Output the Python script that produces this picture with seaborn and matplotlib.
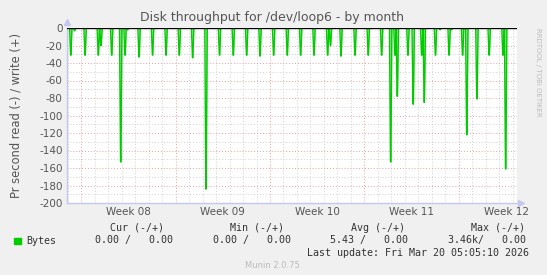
import numpy as np
import pandas as pd
import matplotlib
matplotlib.use("Agg")
import matplotlib.pyplot as plt
import seaborn as sns

# ---- data (days since start of Week 08, value in bytes/s; negative = read) ----
spike_day = [-0.76, -0.48, 0.30, 1.28, 1.48, 2.27, 2.94, 3.26, 3.45, 4.30, 5.30, 6.30,
             7.28, 8.27, 9.26, 10.26, 11.28, 12.27, 13.26, 14.27, 15.28, 16.27,
             17.26, 18.27, 18.48, 19.26, 20.30, 21.28, 22.27, 22.94, 23.26, 23.43,
             24.22, 24.61, 25.24, 25.43, 26.26, 26.60, 27.27, 27.45, 28.27, 28.58,
             29.33, 30.24, 31.26, 31.46]
spike_value = [-31, -3, -31, -31, -20, -31, -153, -31, -2, -33, -31, -31,
               -31, -34, -184, -31, -31, -31, -32, -31, -31, -31,
               -31, -31, -20, -32, -31, -31, -31, -153, -31, -78,
               -31, -87, -31, -85, -31, -2, -31, -2, -31, -122,
               -81, -31, -31, -161]

week_labels = ["Week 08", "Week 09", "Week 10", "Week 11", "Week 12"]
week_starts = [0, 7, 14, 21, 28]
yticks = list(range(0, -201, -20))

legend_headers = ["Cur (-/+)", "Min (-/+)", "Avg (-/+)", "Max (-/+)"]
legend_values = ["0.00 /   0.00", "0.00 /   0.00", "5.43 /   0.00", "3.46k/   0.00"]
series_name = "Bytes"
last_update = "Last update: Fri Mar 20 05:05:10 2026"

# ---- build series from the spikes ----
X0, X1 = -1.04, 32.3
xs, ys = [X0], [0.0]
hw, bw = 0.09, 0.015
for d, v in zip(spike_day, spike_value):
    xs += [d - hw, d - bw, d + bw, d + hw]
    ys += [0, v, v, 0]
xs.append(X1); ys.append(0.0)
df = pd.DataFrame({"day": xs, "value": ys})

sns.set_style("white")
plt.rcParams["font.family"] = ["DejaVu Sans"]

fig = plt.figure(figsize=(5.47, 2.75), dpi=100)
fig.patch.set_facecolor("#F0F0F0")
ax = fig.add_axes([67 / 547, 72 / 275, 450 / 547, 175 / 275])
ax.set_facecolor("white")

ax.set_xlim(X0, X1)
ax.set_ylim(-200, 0)

# grid
for d in np.arange(-1, 33):
    if d in week_starts:
        continue
    ax.axvline(d, color="#D0D0D0", lw=0.7, ls=(0, (1, 2)), zorder=0)
for d in week_starts:
    ax.axvline(d, color="#E8A0A0", lw=0.7, ls=(0, (1, 2)), zorder=0)
for yv in range(-190, 0, 20):
    ax.axhline(yv, color="#D0D0D0", lw=0.7, ls=(0, (1, 2)), zorder=0)
for yv in range(-180, 0, 20):
    ax.axhline(yv, color="#E8A0A0", lw=0.7, ls=(0, (1, 2)), zorder=0)

ax.fill_between(df["day"], df["value"], 0, color="#00CC00", alpha=0.45, lw=0, zorder=2)
sns.lineplot(data=df, x="day", y="value", ax=ax, color="#00CC00", lw=1.0,
             estimator=None, sort=False, zorder=3)
ax.axhline(0, color="black", lw=1.0, zorder=4)

# axes style
for s in ["top", "right"]:
    ax.spines[s].set_visible(False)
for s in ["left", "bottom"]:
    ax.spines[s].set_color("#C4C8EC")
    ax.spines[s].set_linewidth(1.0)
ax.plot([0], [1.035], marker="^", color="#C4C8EC", ms=5, transform=ax.transAxes, clip_on=False)
ax.plot([1.008], [0], marker=">", color="#C4C8EC", ms=5, transform=ax.transAxes, clip_on=False)

ax.set_yticks(yticks)
ax.set_yticklabels([str(v) for v in yticks])
ax.set_xticks([w + 3.5 for w in week_starts])
ax.set_xticklabels(week_labels)
ax.tick_params(axis="both", length=0, labelsize=7.5, colors="#555555", pad=3)
ax.set_xlabel("")
ax.set_ylabel("Pr second read (-) / write (+)", fontsize=8.3, color="#555555", labelpad=12)

fig.text(272 / 547, 1 - 18 / 275, "Disk throughput for /dev/loop6 - by month",
         ha="center", va="center", fontsize=9, color="#555555")
fig.text(538 / 547, 1 - 28 / 275, "RRDTOOL / TOBI OETIKER", rotation=270,
         ha="center", va="top", fontsize=5, color="#BBBBBB")

mono = "DejaVu Sans Mono"
fs = 7.2
head_right = [164, 284, 405, 525]
val_right = [173, 291, 408, 526]
for h, xr in zip(legend_headers, head_right):
    fig.text(xr / 547, 1 - 228 / 275, h, ha="right", va="center", fontsize=fs,
             family=mono, color="#333333")
for v, xr in zip(legend_values, val_right):
    fig.text(xr / 547, 1 - 240.5 / 275, v, ha="right", va="center", fontsize=fs,
             family=mono, color="#333333")
fig.patches.append(plt.Rectangle((14 / 547, 1 - 244 / 275), 6.5 / 547, 6.5 / 275,
                                 transform=fig.transFigure, color="#00CC00"))
fig.text(26 / 547, 1 - 240.5 / 275, series_name, ha="left", va="center", fontsize=fs,
         family=mono, color="#333333")
fig.text(529 / 547, 1 - 253 / 275, last_update, ha="right", va="center", fontsize=fs,
         family=mono, color="#333333")
fig.text(272 / 547, 1 - 266 / 275, "Munin 2.0.75", ha="center", va="center",
         fontsize=6, color="#BBBBBB")

fig.savefig("out.png", dpi=100, facecolor=fig.get_facecolor())
